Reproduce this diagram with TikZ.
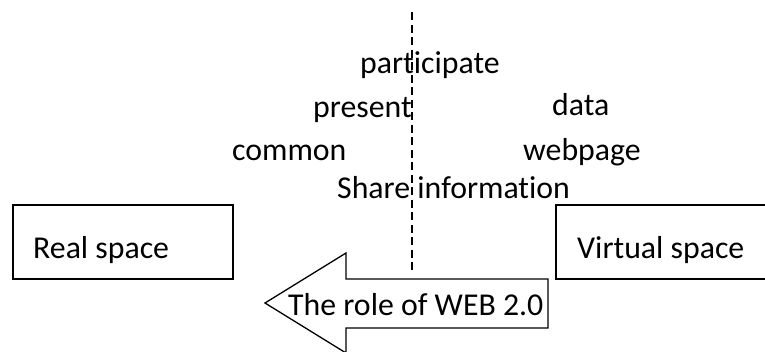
\documentclass[tikz,border=0pt]{standalone}
\usepackage{fontspec}
\setmainfont[RawFeature={-liga;-clig;-dlig;-calt}]{Carlito}
\begin{document}
\begin{tikzpicture}[x=1pt,y=-1pt,
  word/.style={anchor=base west,inner sep=0pt,font=\fontsize{31.8}{36}\selectfont},
  frame/.style={draw,line width=1.6pt,anchor=north west,inner sep=0pt},
  divider/.style={line width=1.6pt,dash pattern=on 8pt off 4.5pt}]
\useasboundingbox (0,0) rectangle (765,351);

% divider between the two spaces
\coordinate (dtop) at (412,12);
\coordinate (dbot) at (412,271);
\draw[divider] (dtop) -- (dbot);

% keywords
\node[word] (participate) at (360,73) {part\kern0pt icipate};
\node[word] (present) at (313,117) {present};
\node[word] (data) at (552,115) {data};
\node[word] (common) at (232,160) {common};
\node[word] (webpage) at (523,160) {webpage};
\node[word] (share) at (337,198) {Share informat\kern0pt ion};

% the two spaces
\node[frame,minimum width=220pt,minimum height=74pt] (real) at (12,204) {};
\node[word] (reallabel) at (33,258) {Real space};
\node[frame,minimum width=240pt,minimum height=74pt] (virtual) at (555,204) {};
\node[word] (virtuallabel) at (577,258) {Virtual space};

% left arrow
\draw[line width=1.3pt,fill=white,line join=miter]
  (548,279) -- (346,279) -- (346,253) -- (265,303) -- (346,353)
  -- (346,328) -- (548,328) -- cycle;
\node[word] (role) at (288,315) {The role of WEB 2.0};
\end{tikzpicture}
\end{document}
